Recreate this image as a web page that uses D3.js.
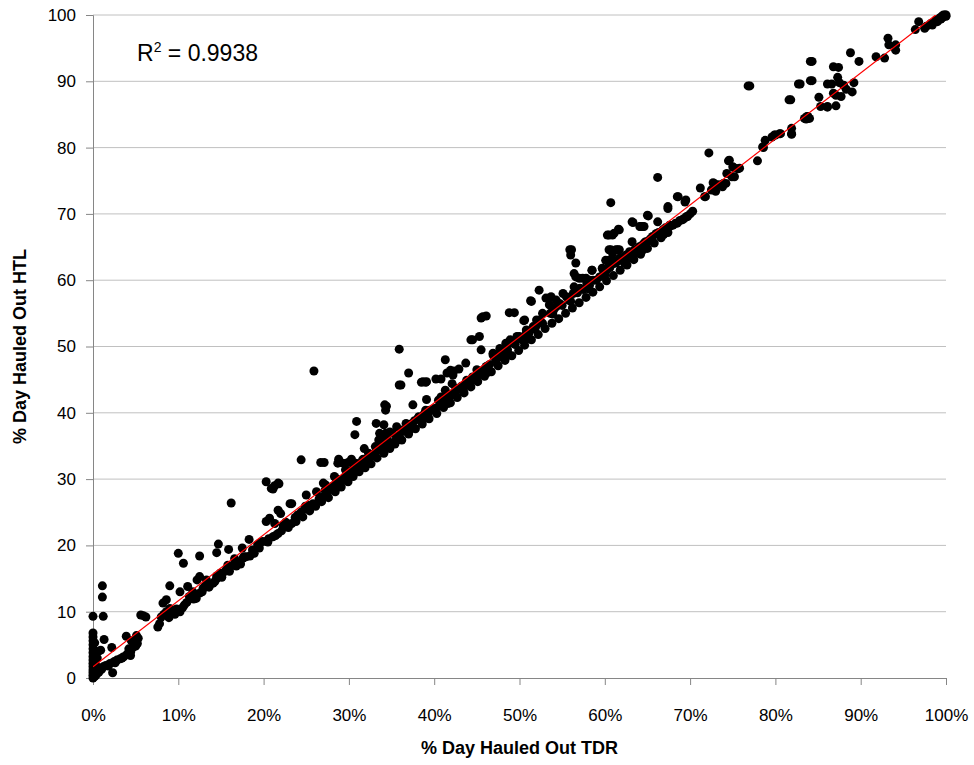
<!DOCTYPE html>
<html>
<head>
<meta charset="utf-8">
<script src="https://cdn.jsdelivr.net/npm/d3@7"></script>
<style>
  body { margin: 0; background: #fff; }
  text { font-family: "Liberation Sans", Arial, sans-serif; fill: #000; }
</style>
</head>
<body>
<div id="chart"></div>
<script>
// chart size
const width = 974
const height = 765
const margin = {top: 15, right: 28, bottom: 87, left: 93}

// axis ticks
const xTicks = [0, 10, 20, 30, 40, 50, 60, 70, 80, 90, 100]
const yTicks = [0, 10, 20, 30, 40, 50, 60, 70, 80, 90, 100]

// trendline (% HTL = slope * % TDR + intercept)
const trendSlope = 0.995
const trendIntercept = 1.7
const rSquared = "0.9938"

// [% day hauled out TDR, % day hauled out HTL]
const nearZero = [
  [0,0],[0,0.4],[0,0.8],[0,1.2],[0,1.7],[0,2.2],[0,2.7],[0,3.2],[0,3.8],[0,4.4],[0,5.0],[0,5.6],
  [0,6.2],[0,6.8],[0,9.3],[0.2,0.2],[0.3,1.0],[0.3,2.0],[0.4,0.5],[0.5,3.0],[0.6,4.0],[0.2,5.3],
  [0.5,1.5],[0.8,1.2],[1.1,13.9],[1.1,12.2],[1.2,9.3],[1.3,5.8],[0.9,4.2],[1.2,1.7],[1.5,1.9],
  [2.0,2.2],[2.2,4.6],[2.3,0.8],[2.5,2.5],[2.8,2.7],[3.2,2.9],[3.6,3.2],[3.9,6.3],[4.0,3.6],
  [4.4,3.4],[4.4,3.9],[4.6,4.5],[4.8,5.2],[5.0,4.8],[5.1,6.4],[5.3,6.0],[5.6,9.5],[6.2,9.2],[5.9,9.4],
  [0.7,0.9],[1.0,1.3],[1.8,1.8],[2.6,2.3],[3.4,3.0],[4.2,4.4],[4.5,5.6],[5.2,5.2]
]

const band5to20 = [
  [7.6,7.7],[7.8,8.2],[8.0,9.2],[8.3,9.6],[8.6,10.0],[8.2,11.3],[8.6,11.8],[9.0,10.5],[9.0,13.9],
  [9.4,9.8],[9.6,9.6],[10.0,18.8],[10.2,10.0],[10.2,13.0],[10.6,17.3],[10.7,11.0],[11.1,13.8],
  [11.3,12.3],[11.7,13.0],[12.1,12.0],[12.5,12.8],[12.5,18.4],[12.2,14.8],[12.5,15.3],[12.9,13.5],
  [13.1,13.8],[13.3,14.8],[14.1,14.3],[14.5,15.0],[14.5,15.4],[14.9,15.8],[14.5,18.9],[14.7,20.2],
  [15.2,15.8],[15.6,16.3],[15.8,17.0],[15.9,19.4],[16.2,26.4],[16.4,17.0],[16.6,18.0],[17.0,17.5],
  [17.5,19.6],[17.6,18.1],[17.7,18.3],[18.0,18.3],[18.3,20.9],[18.7,19.3],[19.3,20.1],[19.6,20.4],
  [19.9,20.6],[20.3,20.6],[20.5,20.5],[20.6,21.0],
  [8.9,9.1],[9.8,10.4],[10.5,10.6],[11.0,11.4],[11.8,11.9],[12.8,13.0],[13.6,13.7],[14.3,14.6],
  [15.1,15.2],[16.0,16.1],[16.8,16.9],[17.3,17.2],[18.4,18.4],[18.9,18.8],[19.5,19.6]
]

const band20to35 = [
  [20.3,23.6],[20.7,24.1],[21.1,21.3],[21.3,23.3],[21.7,21.8],[21.7,25.3],[22.0,24.8],[22.3,23.0],
  [22.6,23.5],[23.1,26.3],[23.3,23.3],[23.3,26.3],[23.7,24.2],[24.0,24.6],[24.4,25.0],[24.8,25.5],
  [25.0,27.6],[25.3,26.0],[25.8,26.3],[26.2,28.1],[26.5,27.0],[26.9,27.3],[27.0,29.4],[27.3,29.1],
  [27.5,28.0],[27.8,28.5],[28.2,29.0],[28.3,30.4],[28.5,30.1],[28.7,29.2],[29.0,29.5],[29.3,30.0],
  [29.6,31.4],[29.8,30.6],[30.0,31.0],[30.3,31.3],[30.6,31.6],[30.8,32.3],[30.8,32.4],[31.1,32.0],
  [31.4,32.3],[31.6,32.9],[31.7,33.0],[32.0,32.8],[32.3,33.9],[32.4,33.5],[32.7,33.5],[33.1,34.9],
  [33.2,34.2],[33.5,35.9],[33.6,34.5],[33.8,35.2],[34.0,35.0],[34.3,36.9],[34.4,36.2],[34.7,35.6],
  [35.1,36.9],[35.5,35.9],
  [21.4,21.5],[22.1,22.2],[22.9,22.7],[23.8,23.6],[24.6,24.3],[25.4,25.2],[26.1,25.9],[26.8,26.6],
  [27.6,27.2],[28.4,28.1],[29.1,28.8],[29.9,29.6],[30.5,30.4],[31.2,31.1],[31.9,31.7],[32.6,32.3],
  [33.3,33.2],[34.1,33.9],[34.8,34.6],[24.9,25.9],[27.2,28.3],[29.5,30.3],[31.8,32.0],
  [20.3,29.6],[20.9,28.6],[21.1,28.5],[21.3,29.0],[21.7,29.4],[21.8,29.3],[24.4,32.9],[25.9,46.3],
  [26.7,32.5],[27.1,32.5],[28.7,32.4],[28.8,33.0],[29.3,32.4],[29.9,32.5],[30.3,33.0],[30.7,36.7],
  [30.9,38.7],[31.8,34.6],[33.2,38.4],[33.6,36.9],[34.0,36.5],[34.1,38.2],[34.2,41.2],[34.3,40.4],
  [34.4,41.0]
]

const band35to52 = [
  [34.8,37.1],[35.6,37.9],[35.9,36.6],[36.2,37.4],[36.6,37.2],[36.7,38.4],[37.1,37.4],[37.4,38.4],
  [37.7,38.8],[38.1,39.2],[38.2,39.4],[38.5,39.0],[38.8,39.8],[39.0,40.4],[39.3,39.9],[39.5,40.4],
  [39.7,40.4],[40.0,40.6],[40.2,40.7],[40.5,41.9],[40.7,41.2],[41.0,41.8],[41.3,43.4],[41.4,42.7],
  [41.7,42.2],[42.1,44.4],[42.0,42.8],[42.4,43.2],[42.6,43.7],[42.9,43.5],[43.2,44.0],[43.4,43.4],
  [43.6,44.3],[43.8,44.9],[44.1,44.6],[44.5,45.4],[44.7,45.0],[45.0,46.5],[45.1,45.6],[45.3,46.2],
  [45.6,46.0],[45.9,46.6],[46.1,47.0],[46.2,47.0],[46.5,47.3],[46.9,48.7],[46.9,49.0],[47.2,48.0],
  [47.5,48.3],[47.7,49.2],[47.7,49.7],[48.0,48.9],[48.4,50.5],[48.6,49.5],[48.9,51.0],[49.2,50.5],
  [49.5,50.3],[49.7,51.5],[50.0,51.5],[50.3,51.0],[50.8,52.0],[50.8,52.5],[51.1,52.0],[51.6,53.0],
  [51.8,52.6],[52.0,53.2],[52.4,54.0],[52.7,53.5],
  [35.4,35.3],[36.2,35.9],[37.0,36.8],[37.8,37.6],[38.6,38.3],[39.4,39.1],[40.3,39.9],[41.1,40.8],
  [41.9,41.5],[42.7,42.3],[43.5,43.0],[44.3,43.9],[45.1,44.7],[45.9,45.5],[46.7,46.2],[47.5,47.1],
  [48.3,47.9],[49.1,48.6],[49.9,49.4],[50.6,50.2],[51.4,51.0],[52.2,51.8],
  [36.9,38.0],[39.0,39.2],[41.6,41.4],[44.0,44.2],[46.3,46.1],[48.8,48.7],[51.0,51.2],
  [35.9,49.6],[35.9,44.2],[36.1,44.2],[37.0,46.0],[37.5,41.2],[38.5,44.6],[38.7,44.7],[39.0,44.6],
  [39.1,44.7],[39.1,42.0],[40.2,45.1],[40.8,45.1],[40.8,42.4],[41.3,48.0],[41.5,46.0],[41.9,46.4],
  [42.2,45.7],[42.3,46.3],[42.9,46.6],[43.7,47.5],[44.3,51.0],[44.5,51.0],[45.3,51.5],[45.5,49.5],
  [45.5,54.3],[45.7,54.5],[46.1,54.6],[48.8,55.1],[49.4,55.1],[50.5,53.9],[50.6,54.0],[51.3,56.9],
  [51.4,56.8]
]

const band52to70 = [
  [52.0,54.0],[52.7,55.0],[53.1,57.3],[53.5,56.3],[53.6,55.0],[53.7,57.5],[54.0,55.5],[54.3,56.0],
  [54.3,57.0],[54.7,56.5],[55.0,56.2],[55.1,58.0],[55.5,57.5],[55.8,57.0],[56.3,58.0],[56.4,59.0],
  [56.6,60.5],[56.8,58.1],[57.1,58.8],[57.0,60.3],[57.4,60.3],[57.5,58.6],[57.8,60.3],[57.9,59.5],
  [58.2,60.0],[58.2,59.2],[58.5,61.5],[58.6,60.0],[59.0,60.0],[59.4,60.5],[59.7,61.8],[59.8,61.5],
  [60.1,63.0],[60.2,61.5],[60.5,62.5],[60.5,63.0],[60.6,61.9],[60.9,64.1],[61.0,62.5],[61.0,63.0],
  [61.3,62.6],[61.5,63.0],[61.7,63.0],[61.7,63.3],[62.0,63.2],[62.2,63.5],[62.5,63.8],[62.5,63.0],
  [62.9,64.3],[63.0,64.0],[63.4,64.3],[63.5,64.6],[63.8,64.1],[64.0,65.0],[64.3,65.2],[64.6,65.3],
  [64.8,65.8],[65.0,65.8],[65.3,66.2],[65.6,66.6],[66.0,67.0],[66.3,67.2],[66.8,67.6],[67.1,67.9],
  [67.6,68.1],[67.6,68.3],[68.0,68.3],[68.3,68.6],[68.5,68.6],[68.8,69.0],[69.1,69.1],[69.3,69.3],
  [69.6,69.6],[69.7,69.6],
  [53.0,52.7],[53.8,53.5],[54.6,54.2],[55.4,55.0],[56.2,55.8],[57.0,56.6],[57.8,57.4],[58.6,58.2],
  [59.4,59.0],[60.2,59.9],[61.0,60.7],[61.8,61.5],[62.6,62.3],[63.4,63.1],[64.2,63.9],[65.0,64.8],
  [65.8,65.6],[66.6,66.4],[67.4,67.2],[53.9,54.9],[56.0,56.8],[58.1,58.7],[60.0,60.8],[62.3,62.6],
  [64.5,64.6],[66.9,66.9],
  [52.3,58.5],[55.9,64.6],[56.0,63.8],[56.1,64.6],[56.4,61.0],[56.6,62.6],[58.5,61.5],[60.3,66.8],
  [60.5,64.6],[60.5,66.8],[60.7,71.7],[60.7,64.6],[60.9,66.8],[61.1,67.1],[61.3,64.6],[61.5,64.6],
  [61.6,67.7],[61.7,67.6],[61.7,64.6],[63.2,65.8],[63.2,68.8],[63.3,68.7],[63.4,64.3],[64.1,68.1],
  [64.2,68.1],[64.4,68.1],[64.6,68.1],[64.6,65.6],[65.0,69.8],[65.1,69.7],[66.2,68.8],[66.2,75.5],
  [67.4,70.8],[67.4,71.1],[68.5,72.6],[68.6,72.6],[69.4,71.8],[69.5,72.1]
]

const band70to100 = [
  [70.0,70.0],[70.3,70.4],[71.2,73.9],[71.7,72.6],[71.8,72.6],[72.2,79.2],[72.5,73.6],[72.7,74.7],
  [72.8,74.6],[73.0,73.4],[73.3,74.4],[73.8,74.1],[73.9,74.6],[74.2,74.6],[74.3,76.1],[74.5,78.0],
  [74.6,78.1],[74.9,75.6],[75.0,77.1],[75.1,77.0],[75.2,75.6],[75.6,76.8],[75.8,76.9],[76.8,89.3],
  [77.0,89.3],[77.9,78.0],[78.5,80.1],[78.6,80.0],[78.8,81.1],[79.6,81.6],[79.9,81.9],[80.0,81.9],
  [80.5,82.1],[80.6,82.1],[81.6,87.2],[81.8,87.2],[81.9,82.0],[81.9,82.1],[81.9,82.9],[82.7,89.6],
  [82.9,89.6],[83.4,84.4],[83.6,84.3],[83.7,84.7],[83.8,84.7],[84.0,84.4],[84.1,90.1],[84.1,93.0],
  [84.3,93.0],[84.3,90.1],[85.1,87.6],[85.3,86.2],[86.1,86.1],[86.1,89.6],[86.1,86.2],[86.6,89.6],
  [86.8,92.2],[86.8,88.2],[87.1,86.3],[87.1,87.9],[87.3,90.6],[87.4,92.1],[87.5,89.8],[87.7,87.7],
  [88.0,89.4],[88.3,88.8],[88.8,94.3],[89.0,88.4],[89.2,89.8],[89.8,93.0],[91.8,93.7],[92.8,93.5],
  [93.2,96.5],[93.3,95.5],[94.1,95.5],[94.1,94.7],[96.4,97.8],[96.8,99.0],[97.5,98.0],[97.7,98.3],
  [98.2,98.7],[98.4,98.5],[98.8,99.2],[99.0,99.0],[99.2,99.5],[99.4,99.4],[99.5,99.8],[99.7,100],
  [100,100],[99.8,99.9],[99.6,99.6],[99.9,100],[100,99.8]
]

const allPoints = [].concat(nearZero, band5to20, band20to35, band35to52, band52to70, band70to100)

// main svg
var svg = d3.select("#chart")
  .append("svg")
  .attr("width", width)
  .attr("height", height)

var x = d3.scaleLinear().domain([0, 100]).range([margin.left, width - margin.right])
var y = d3.scaleLinear().domain([0, 100]).range([height - margin.bottom, margin.top])

svg.append("defs").append("clipPath")
  .attr("id", "plotClip")
  .append("rect")
  .attr("x", x(0)).attr("y", y(100))
  .attr("width", x(100) - x(0)).attr("height", y(0) - y(100))

// horizontal gridlines
svg.append("g")
  .selectAll("line")
  .data(yTicks.filter(d => d > 0))
  .enter()
  .append("line")
  .attr("x1", x(0)).attr("x2", x(100))
  .attr("y1", d => y(d)).attr("y2", d => y(d))
  .attr("stroke", "#c0c0c0")
  .attr("stroke-width", 1)

// y axis
var yAxis = svg.append("g")
  .attr("transform", "translate(" + x(0) + ",0)")
  .call(d3.axisLeft(y).tickValues(yTicks).tickSize(7).tickPadding(10))
yAxis.selectAll("path, line").attr("stroke", "#868686")
yAxis.selectAll("text")
  .style("font-family", "'Liberation Sans', Arial, sans-serif")
  .style("font-size", "17px")
  .attr("fill", "#000")

// x axis
var xAxis = svg.append("g")
  .attr("transform", "translate(0," + y(0) + ")")
  .call(d3.axisBottom(x).tickValues(xTicks).tickSize(7).tickPadding(24)
    .tickFormat(d => d + "%"))
xAxis.selectAll("path, line").attr("stroke", "#868686")
xAxis.selectAll("text")
  .style("font-family", "'Liberation Sans', Arial, sans-serif")
  .style("font-size", "17px")
  .attr("fill", "#000")

// points
svg.append("g")
  .attr("class", "points")
  .selectAll("circle")
  .data(allPoints)
  .enter()
  .append("circle")
  .attr("cx", d => x(d[0]))
  .attr("cy", d => y(d[1]))
  .attr("r", 4.5)
  .attr("fill", "#000")

// linear trendline, clipped to plot area
svg.append("line")
  .attr("clip-path", "url(#plotClip)")
  .attr("x1", x(0)).attr("y1", y(trendIntercept))
  .attr("x2", x(100)).attr("y2", y(trendSlope * 100 + trendIntercept))
  .attr("stroke", "#ff0000")
  .attr("stroke-width", 1.2)

// R squared label
var r2 = svg.append("text")
  .attr("x", 137)
  .attr("y", 61)
  .style("font-size", "23px")
r2.append("tspan").text("R")
r2.append("tspan").attr("dy", -9).style("font-size", "14px").text("2")
r2.append("tspan").attr("dy", 9).text(" = " + rSquared)

// axis titles
svg.append("text")
  .attr("x", (x(0) + x(100)) / 2)
  .attr("y", 754)
  .attr("text-anchor", "middle")
  .style("font-size", "18px")
  .style("font-weight", "bold")
  .text("% Day Hauled Out TDR")

svg.append("text")
  .attr("transform", "translate(26," + (y(0) + y(100)) / 2 + ") rotate(-90)")
  .attr("text-anchor", "middle")
  .style("font-size", "18px")
  .style("font-weight", "bold")
  .text("% Day Hauled Out HTL")
</script>
</body>
</html>
